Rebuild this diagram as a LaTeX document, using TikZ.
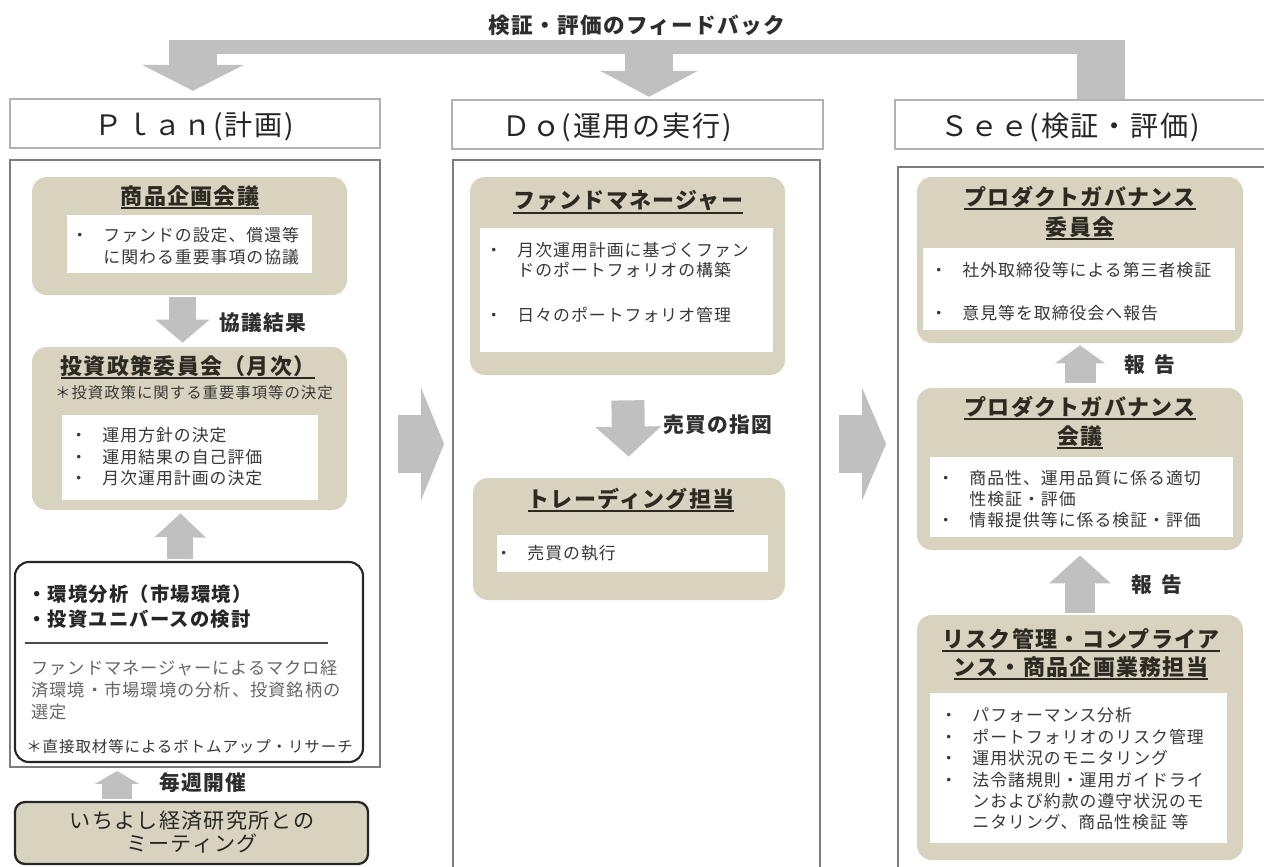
\documentclass[tikz,border=0pt]{standalone}
\usepackage{fontspec}
\setmainfont{Noto Sans CJK JP}[LetterSpace=6]
\usetikzlibrary{arrows.meta,fit,positioning}
\definecolor{tanfill}{RGB}{216,211,191}
\definecolor{arrowgray}{RGB}{192,192,192}
\definecolor{framegray}{RGB}{125,125,125}
\definecolor{inktext}{RGB}{45,42,35}
\newcommand{\itm}{\makebox[1.9em][l]{・}}
\newcommand{\ttlul}[1]{\setbox0=\hbox{#1}\rlap{\rule[-0.22em]{\wd0}{1pt}}\box0}
\tikzset{
  colbox/.style={draw=framegray, line width=1.1pt, inner sep=0pt},
  headbox/.style={draw=gray!60, line width=1.4pt, fill=white, inner sep=0pt},
  tanbox/.style={fill=tanfill, rounded corners=0.3cm, inner sep=0pt},
  wbox/.style={fill=white, inner sep=0pt},
  headtxt/.style={font=\fontsize{16}{18}\selectfont, text=black!85, inner sep=0pt},
  ttl/.style={font=\bfseries\fontsize{12.5}{17}\selectfont, text=inktext, inner sep=0pt, align=center},
  body/.style={font=\fontsize{9.6}{12.2}\selectfont, text=black!78, inner sep=0pt, align=left, anchor=west},
  note/.style={font=\fontsize{8.8}{11}\selectfont, text=black!78, inner sep=0pt},
  lbl/.style={font=\bfseries\fontsize{11.8}{14}\selectfont, text=black!82, inner sep=0pt},
  blockarrow/.style={draw=arrowgray, line width=#1},
}
\begin{document}
\begin{tikzpicture}[x=0.02cm, y=-0.02cm]
    \useasboundingbox (0,0) rectangle (1264,866);
    % headers and columns
    \node[headbox, fit={(10,99) (380,148)}] (planhead) {};
    \node[headbox, fit={(452,100) (823,149)}] (dohead) {};
    \node[headbox, fit={(895,100) (1272,149)}] (seehead) {};
    \node[headtxt] (plant) at (194,126) {Ｐｌａｎ(計画)};
    \node[headtxt] (dot) at (617,127) {Ｄｏ(運用の実行)};
    \node[headtxt] (seet) at (1070,127) {Ｓｅｅ(検証・評価)};
    \node[colbox, fit={(10,160) (380,767)}] (plancol) {};
    \node[colbox, fit={(453,160) (820,872)}] (docol) {};
    \node[colbox, fit={(898,167) (1272,872)}] (seecol) {};

    % feedback
    \node[lbl, font=\bfseries\fontsize{12.3}{14}\selectfont] (fbtitle) at (637,25) {検証・評価のフィードバック};
    \coordinate (fbW) at (169,47);
    \coordinate (fbE) at (1125,47);
    \coordinate (fbL) at (193,40);
    \coordinate (fbM) at (649,47);
    \coordinate (fbR) at (1101,40);
    \draw[blockarrow=0.28cm] (fbW) -- (fbE);
    \draw[blockarrow=0.98cm, -{Triangle[length=0.52cm, width=2.02cm]}, shorten >=0.14cm] (fbL) -- (planhead.north -| fbL);
    \draw[blockarrow=0.96cm, -{Triangle[length=0.52cm, width=1.94cm]}, shorten >=0.04cm] (fbM) -- (dohead.north -| fbM);
    \draw[blockarrow=0.96cm] (seehead.north -| fbR) -- (fbR);

    % plan
    \node[tanbox, fit={(32,177) (347,295)}] (kikaku) {};
    \node[wbox, fit={(67,215) (312,273)}] (kikakuw) {};
    \node[ttl] (kikakut) at (190,197) {\ttlul{商品企画会議}};
    \node[body, font=\fontsize{9.6}{12.5}\selectfont] (kikakub) at (71,246) {\itm ファンドの設定、償還等\\\hspace*{1.9em}に関わる重要事項の協議};
    \node[tanbox, fit={(32,347) (347,510)}] (seisaku) {};
    \node[wbox, fit={(62,415) (318,500)}] (seisakuw) {};
    \node[ttl] (seisakut) at (188,367) {\ttlul{投資政策委員会（月次）}};
    \node[note] (seisakun) at (194,393) {＊投資政策に関する重要事項等の決定};
    \node[body] (seisakub) at (70,457) {\itm 運用方針の決定\\\itm 運用結果の自己評価\\\itm 月次運用計画の決定};
    \draw[blockarrow=0.54cm, -{Triangle[length=0.46cm, width=1.06cm]}, shorten <=0.04cm, shorten >=0.08cm] ([xshift=-0.14cm]kikaku.south) -- ([xshift=-0.14cm]seisaku.north);
    \node[lbl] (kyogi) at (263,323) {協議結果};

    \node[draw=black!85, line width=1.2pt, fill=white, rounded corners=0.28cm, inner sep=0pt, fit={(15,562) (363,762)}] (kankyo) {};
    \node[anchor=west, align=left, inner sep=0pt, text=black!85, font=\bfseries\fontsize{11}{14.2}\selectfont] (kankyot) at (27,607) {・環境分析（市場環境）\\・投資ユニバースの検討};
    \draw[black!70, line width=0.6pt] (25,643) -- (328,643);
    \node[body, text=black!60, font=\fontsize{9.8}{12.5}\selectfont] (kankyob) at (31,690) {ファンドマネージャーによるマクロ経\\済環境・市場環境の分析、投資銘柄の\\選定};
    \node[note, anchor=west] (kankyon) at (26,747) {＊直接取材等によるボトムアップ・リサーチ};
    \draw[blockarrow=0.52cm, -{Triangle[length=0.48cm, width=1.0cm]}, shorten <=0.04cm, shorten >=0.06cm] ([xshift=-0.18cm]kankyo.north) -- ([xshift=-0.18cm]seisaku.south);

    \node[draw=black!85, line width=1.3pt, fill=tanfill, rounded corners=0.2cm, inner sep=0pt, fit={(15,802) (368,864)}] (meeting) {};
    \node[align=center, inner sep=0pt, text=black!85, font=\fontsize{12}{12.6}\selectfont] (meett) at (192,832) {いちよし経済研究所との\\ミーティング};
    \coordinate (wk) at (117,0);
    \draw[blockarrow=0.6cm, -{Triangle[length=0.26cm, width=0.88cm]}, shorten <=0.04cm, shorten >=0.06cm] (meeting.north -| wk) -- (plancol.south -| wk);
    \node[lbl] (weekly) at (203,783) {毎週開催};

    % do
    \node[tanbox, fit={(470,177) (785,375)}] (fm) {};
    \node[wbox, fit={(480,228) (773,352)}] (fmw) {};
    \node[ttl] (fmt) at (628,202) {\ttlul{ファンドマネージャー}};
    \node[body, font=\fontsize{9.6}{11.6}\selectfont] (fmb) at (485,282.5) {\itm 月次運用計画に基づくファン\\\hspace*{1.9em}ドのポートフォリオの構築\\[13.9pt]\itm 日々のポートフォリオ管理};
    \node[tanbox, fit={(473,478) (785,600)}] (trade) {};
    \node[wbox, fit={(497,535) (768,572)}] (tradew) {};
    \node[ttl] (tradet) at (631,500) {\ttlul{トレーディング担当}};
    \node[body] (tradeb) at (495,553) {\itm 売買の執行};
    \draw[blockarrow=0.66cm, -{Triangle[length=0.6cm, width=1.28cm]}, shorten <=0.5cm, shorten >=0.42cm] (fm.south) -- (trade.north);
    \node[lbl] (baibai) at (718,425) {売買の指図};

    % see
    \node[tanbox, fit={(917,177) (1243,343)}] (pgiin) {};
    \node[wbox, fit={(923,248) (1235,330)}] (pgiinw) {};
    \node[ttl] (pgiint) at (1080,213) {\ttlul{プロダクトガバナンス}\\[0pt]\ttlul{委員会}};
    \node[body, font=\fontsize{9.6}{24.4}\selectfont] (pgiinb) at (930,291.5) {\itm 社外取締役等による第三者検証\\\itm 意見等を取締役会へ報告};
    \node[tanbox, fit={(917,388) (1243,550)}] (pgkaigi) {};
    \node[wbox, fit={(930,457) (1233,537)}] (pgkaigiw) {};
    \node[ttl, font=\bfseries\fontsize{12.5}{16.4}\selectfont] (pgkaigit) at (1080,422.5) {\ttlul{プロダクトガバナンス}\\\ttlul{会議}};
    \node[body, font=\fontsize{9.6}{11.9}\selectfont] (pgkaigib) at (937,499) {\itm 商品性、運用品質に係る適切\\\hspace*{1.9em}性検証・評価\\\itm 情報提供等に係る検証・評価};
    \draw[blockarrow=0.62cm, -{Triangle[length=0.36cm, width=0.98cm]}, shorten <=0.1cm, shorten >=0.04cm] (pgkaigi.north) -- (pgiin.south);
    \node[lbl] (hokoku1) at (1150,365) {報\hspace{0.45em}告};
    \node[tanbox, fit={(917,615) (1243,860)}] (risk) {};
    \node[wbox, fit={(930,693) (1227,843)}] (riskw) {};
    \node[ttl, font=\bfseries\fontsize{12.5}{15.9}\selectfont] (riskt) at (1081,654) {\ttlul{リスク管理・コンプライア}\\\ttlul{ンス・商品企画業務担当}};
    \node[body] (riskb) at (940,769) {\itm パフォーマンス分析\\\itm ポートフォリオのリスク管理\\\itm 運用状況のモニタリング\\\itm 法令諸規則・運用ガイドライ\\\hspace*{1.9em}ンおよび約款の遵守状況のモ\\\hspace*{1.9em}ニタリング、商品性検証 等};
    \draw[blockarrow=0.6cm, -{Triangle[length=0.56cm, width=1.2cm]}, shorten <=0.04cm, shorten >=0.1cm] (risk.north) -- (pgkaigi.south);
    \node[lbl] (hokoku2) at (1157,585) {報\hspace{0.45em}告};

    % between columns
    \coordinate (midrow) at (0,444);
    \draw[blockarrow=1.16cm, -{Triangle[length=0.46cm, width=2.24cm]}, shorten <=0.34cm, shorten >=0.16cm] (plancol.east |- midrow) -- (docol.west |- midrow);
    \draw[blockarrow=1.16cm, -{Triangle[length=0.48cm, width=2.24cm]}, shorten <=0.36cm, shorten >=0.22cm] (docol.east |- midrow) -- (seecol.west |- midrow);
\end{tikzpicture}
\end{document}
